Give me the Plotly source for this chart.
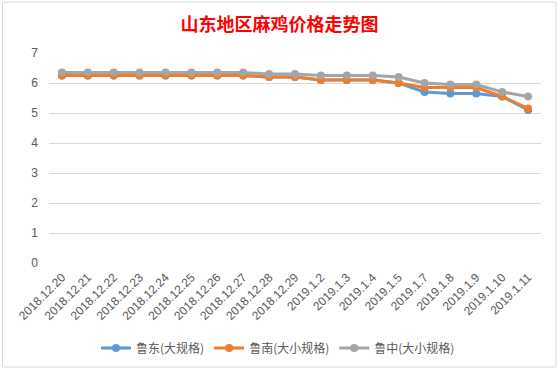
import plotly.graph_objects as go

categories = ["2018.12.20", "2018.12.21", "2018.12.22", "2018.12.23", "2018.12.24",
              "2018.12.25", "2018.12.26", "2018.12.27", "2018.12.28", "2018.12.29",
              "2019.1.2", "2019.1.3", "2019.1.4", "2019.1.5", "2019.1.7",
              "2019.1.8", "2019.1.9", "2019.1.10", "2019.1.11"]

ludong = [6.25, 6.25, 6.25, 6.25, 6.25, 6.25, 6.25, 6.25, 6.2, 6.2,
          6.1, 6.1, 6.1, 6.0, 5.7, 5.65, 5.65, 5.55, 5.1]
lunan = [6.25, 6.25, 6.25, 6.25, 6.25, 6.25, 6.25, 6.25, 6.2, 6.2,
         6.1, 6.1, 6.1, 6.0, 5.85, 5.85, 5.85, 5.55, 5.15]
luzhong = [6.35, 6.35, 6.35, 6.35, 6.35, 6.35, 6.35, 6.35, 6.3, 6.3,
           6.25, 6.25, 6.25, 6.2, 6.0, 5.95, 5.95, 5.7, 5.55]

series_names = ["鲁东(大规格)", "鲁南(大小规格)", "鲁中(大小规格)"]
colors = ["#5b9bd5", "#ed7d31", "#a5a5a5"]

W, H = 559, 370
L, R, T, B = 49, 18, 53, 107

fig = go.Figure()
for name, vals, c in zip(series_names, [ludong, lunan, luzhong], colors):
    fig.add_trace(go.Scatter(
        x=categories, y=vals, name=name, mode="lines+markers",
        line=dict(color=c, width=3),
        marker=dict(color=c, size=8),
    ))

font_fam = "Liberation Sans, Noto Sans CJK SC, sans-serif"

pw = W - L - R
ph = H - T - B
def px_x(p):
    return (p - L) / pw
def px_y(p):
    return (H - B - p) / ph

fig.add_shape(type="rect", xref="paper", yref="paper",
              x0=px_x(2.5), x1=px_x(556), y0=px_y(367), y1=px_y(2),
              line=dict(color="#d9d9d9", width=1), fillcolor="rgba(0,0,0,0)", layer="below")

fig.update_layout(
    width=W, height=H,
    margin=dict(l=L, r=R, t=T, b=B, autoexpand=False),
    paper_bgcolor="white", plot_bgcolor="white",
    title=dict(text="<b>山东地区麻鸡价格走势图</b>", x=0.5, xanchor="center",
               y=1 - 25 / H, yanchor="middle", automargin=False,
               font=dict(family="Noto Sans CJK SC, sans-serif", size=18, color="#ff0000")),
    font=dict(family=font_fam, color="#595959", size=12),
    showlegend=True,
    legend=dict(orientation="h", x=px_x(278), xanchor="center", y=px_y(348), yanchor="middle",
                font=dict(family="Noto Sans CJK SC, sans-serif", size=12, color="#595959"),
                itemwidth=30, tracegroupgap=0, bgcolor="rgba(0,0,0,0)"),
    xaxis=dict(type="category", tickangle=-45, showgrid=False, zeroline=False,
               showline=False, ticks="", automargin=False, ticklabelstandoff=4,
               tickfont=dict(size=12, color="#595959"),
               range=[-0.5, len(categories) - 0.5]),
    yaxis=dict(range=[0, 7], dtick=1, showgrid=True, gridcolor="#d9d9d9", gridwidth=1,
               zeroline=False, showline=False, ticks="", ticklabelstandoff=10,
               automargin=False, tickfont=dict(size=12, color="#595959")),
)

fig.write_html("out.html", config={"displayModeBar": False},
               post_script="document.body.style.margin='0';document.body.style.padding='0';")
